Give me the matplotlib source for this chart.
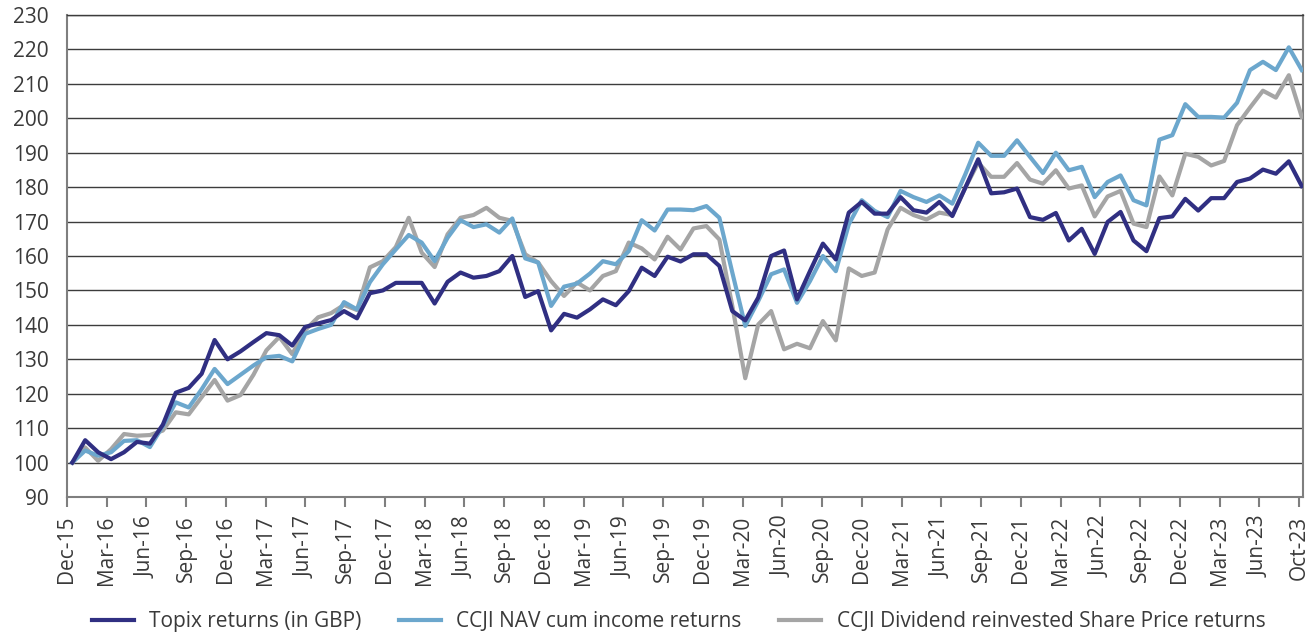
import numpy as np
import matplotlib
matplotlib.use("Agg")
import matplotlib.pyplot as plt

plt.rcParams['font.family'] = ['Open Sans', 'DejaVu Sans']

# Monthly series, rebased to 100 at Dec-15 (96 points)
topix = [100, 106.5, 103, 101, 103, 106, 105.5, 111, 120.3, 121.7, 125.8, 135.6,
         130, 132.3, 135, 137.6, 137, 134, 139.4, 140.4, 141.4, 144, 141.9, 149.2,
         150.0, 152.2, 152.2, 152.2, 146.2, 152.5, 155.2, 153.7, 154.2, 155.6, 160.0, 148.1,
         149.8, 138.4, 143.2, 142.1, 144.5, 147.4, 145.7, 149.8, 156.6, 154.2, 159.8, 158.4,
         160.5, 160.5, 157.1, 144.0, 141.3, 147.9, 160.0, 161.6, 147.4, 155.6, 163.6, 159.0,
         172.6, 175.7, 172.3, 172.3, 177.1, 173.3, 172.6, 175.7, 171.6, 179.8, 188.1, 178.2,
         178.5, 179.6, 171.3, 170.5, 172.5, 164.5, 167.9, 160.6, 169.9, 172.8, 164.5, 161.4,
         171.0, 171.5, 176.6, 173.2, 176.8, 176.8, 181.5, 182.5, 185.1, 183.9, 187.5, 180.3]

nav = [100, 103.5, 102, 103, 106.3, 106.5, 104.5, 110.6, 117.5, 116, 121.3, 127.2,
       122.8, 125.5, 128.2, 130.6, 131, 129.4, 137.4, 138.8, 140, 146.6, 144.5, 152.4,
       157.6, 161.9, 166.1, 163.9, 158.5, 165.3, 170.4, 168.4, 169.2, 166.8, 170.9, 159.3,
       158.1, 145.5, 151.1, 152.0, 154.9, 158.5, 157.6, 161.4, 170.4, 167.4, 173.5, 173.5,
       173.3, 174.5, 171.1, 155.2, 139.7, 146.9, 154.7, 156.1, 146.4, 152.7, 160.0, 155.6,
       169.2, 176.2, 173.1, 171.3, 178.9, 177.1, 175.7, 177.6, 175.2, 183.7, 192.9, 189.1,
       189.1, 193.6, 188.8, 184.1, 190.0, 184.9, 185.9, 177.1, 181.5, 183.4, 176.2, 174.7,
       193.8, 195.1, 204.1, 200.4, 200.4, 200.2, 204.5, 214.0, 216.4, 214.0, 220.6, 214.0]

share_price = [100, 104.4, 100.5, 103.9, 108.3, 107.8, 108, 109.3, 114.6, 114, 119, 124,
               118, 119.6, 125.5, 132.6, 136.5, 131.5, 138.5, 142.2, 143.4, 145.8, 144.3, 156.7,
               158.5, 162.6, 171.1, 161.0, 156.8, 166.3, 171.1, 171.9, 174.0, 171.1, 170.2, 160.5,
               158.1, 152.7, 148.4, 152.3, 150.0, 154.2, 155.6, 163.9, 162.2, 159.0, 165.6, 161.9,
               168.0, 168.7, 164.8, 145.5, 124.5, 140.1, 144.0, 132.9, 134.5, 133.2, 141.1, 135.5,
               156.4, 154.2, 155.2, 167.7, 174.0, 171.9, 170.6, 172.6, 171.9, 179.8, 187.1, 183.0,
               183.0, 187.0, 182.2, 181.0, 184.9, 179.6, 180.5, 171.5, 177.3, 178.9, 169.4, 168.4,
               183.1, 177.6, 189.7, 188.8, 186.3, 187.6, 198.0, 203.1, 208.0, 206.0, 212.5, 200.4]

tick_labels = ['Dec-15', 'Mar-16', 'Jun-16', 'Sep-16', 'Dec-16', 'Mar-17', 'Jun-17', 'Sep-17',
               'Dec-17', 'Mar-18', 'Jun-18', 'Sep-18', 'Dec-18', 'Mar-19', 'Jun-19', 'Sep-19',
               'Dec-19', 'Mar-20', 'Jun-20', 'Sep-20', 'Dec-20', 'Mar-21', 'Jun-21', 'Sep-21',
               'Dec-21', 'Mar-22', 'Jun-22', 'Sep-22', 'Dec-22', 'Mar-23', 'Jun-23', 'Oct-23']

labels = ['Topix returns (in GBP)', 'CCJI NAV cum income returns',
          'CCJI Dividend reinvested Share Price returns']
colors = ['#302F82', '#6CA7CD', '#A5A5A5']

text_col = '#3a3a3a'
x = np.arange(len(topix))

fig = plt.figure(figsize=(13.1, 6.35), dpi=100)
ax = fig.add_axes([0.0511, 0.2173, 0.9436, 0.7591])

# grey behind, then NAV, Topix on top
ax.plot(x, share_price, color=colors[2], lw=3, zorder=3, label=labels[2])
ax.plot(x, nav, color=colors[1], lw=3, zorder=4, label=labels[1])
ax.plot(x, topix, color=colors[0], lw=3, zorder=5, label=labels[0])

ax.set_ylim(90, 230)
ax.set_yticks(np.arange(90, 231, 10))
ax.set_xlim(-0.41, 95.1)
ax.set_xticks(np.linspace(-0.41, 94.8, len(tick_labels)))
ax.set_xticklabels(tick_labels, rotation=90)

ax.yaxis.grid(True, color='#3c3c3c', lw=1.0)
ax.set_axisbelow(True)

ax.tick_params(axis='y', length=0, pad=13, labelsize=15, labelcolor=text_col)
ax.tick_params(axis='x', length=7.5, width=1.5, color='#7f7f7f', pad=6,
               labelsize=15, labelcolor=text_col)
for side in ['left', 'bottom', 'right']:
    ax.spines[side].set_color('#7f7f7f')
    ax.spines[side].set_linewidth(1.5)
ax.spines['top'].set_color('#3c3c3c')
ax.spines['top'].set_linewidth(1.0)

h, l = ax.get_legend_handles_labels()
order = [2, 1, 0]
fig.legend([h[i] for i in order], [l[i] for i in order], loc='center',
           bbox_to_anchor=(0.518, 0.021), ncol=3, frameon=False, fontsize=15,
           handlelength=2.0, handletextpad=0.75, columnspacing=1.8,
           labelcolor=text_col)

fig.savefig('out.png', dpi=100)
